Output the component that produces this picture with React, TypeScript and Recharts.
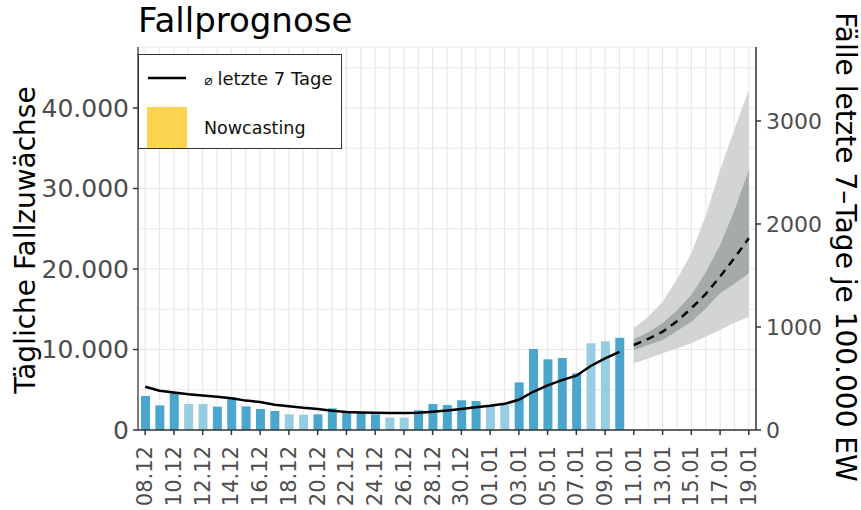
import React from 'react';
import { ComposedChart, Bar, Line, Area, XAxis, YAxis, CartesianGrid, Cell, Legend, Label } from 'recharts';

const dates = [
  '08.12', '09.12', '10.12', '11.12', '12.12', '13.12', '14.12', '15.12', '16.12', '17.12',
  '18.12', '19.12', '20.12', '21.12', '22.12', '23.12', '24.12', '25.12', '26.12', '27.12',
  '28.12', '29.12', '30.12', '31.12', '01.01', '02.01', '03.01', '04.01', '05.01', '06.01',
  '07.01', '08.01', '09.01', '10.01', '11.01', '12.01', '13.01', '14.01', '15.01', '16.01',
  '17.01', '18.01', '19.01',
];

// daily new cases (08.12 - 10.01)
const dailyCases = [
  4220, 3060, 4670, 3230, 3230, 2900, 4050, 2930, 2600, 2360,
  1950, 1900, 1950, 2690, 2150, 2150, 1950, 1550, 1530, 2450,
  3230, 3100, 3690, 3600, 3000, 3300, 5920, 10060, 8780, 8940,
  7040, 10770, 11020, 11470,
];

// 7-day average (08.12 - 10.01)
const avg7 = [
  5380, 4880, 4650, 4450, 4280, 4130, 3950, 3650, 3480, 3150,
  2950, 2750, 2600, 2400, 2250, 2180, 2130, 2100, 2100, 2150,
  2280, 2420, 2620, 2830, 3000, 3250, 3750, 4750, 5550, 6200,
  6750, 7950, 8900, 9700,
];

const lightBarDates = ['11.12', '12.12', '18.12', '19.12', '25.12', '26.12', '01.01', '02.01', '08.01', '09.01'];

// forecast (cases last 7 days per 100.000), 11.01 - 19.01
const forecastDates = ['11.01', '12.01', '13.01', '14.01', '15.01', '16.01', '17.01', '18.01', '19.01'];
const forecastMedian = [825, 885, 954, 1055, 1181, 1320, 1489, 1670, 1861];
const innerLow = [777, 825, 874, 960, 1052, 1180, 1327, 1420, 1521];
const innerHigh = [880, 950, 1036, 1160, 1311, 1530, 1796, 2130, 2524];
const outerLow = [647, 695, 744, 792, 842, 905, 971, 1040, 1100];
const outerHigh = [987, 1100, 1246, 1460, 1715, 2080, 2524, 2920, 3301];

const leftTicks = [0, 5000, 10000, 15000, 20000, 25000, 30000, 35000, 40000, 45000];
const rightTicks = [0, 1000, 2000, 3000];

const data = dates.map((d, i) => {
  const fi = forecastDates.indexOf(d);
  return {
    date: d,
    cases: i < dailyCases.length ? dailyCases[i] : null,
    avg: i < avg7.length ? avg7[i] : null,
    median: fi >= 0 ? forecastMedian[fi] : null,
    inner: fi >= 0 ? [innerLow[fi], innerHigh[fi]] : null,
    outer: fi >= 0 ? [outerLow[fi], outerHigh[fi]] : null,
  };
});

const FONT = '"DejaVu Sans", sans-serif';
const TICK_COLOR = '#4d4d4d';
const DARK_BLUE = '#4aa6cc';
const LIGHT_BLUE = '#97cde2';

const fmt = (v: number) => String(v).replace(/\B(?=(\d{3})+(?!\d))/g, '.');

const XTick = (props: any) => {
  const { x, y, payload } = props;
  const idx = dates.indexOf(payload.value);
  if (idx % 2 !== 0) return <g />;
  const ty = y + 16;
  return (
    <g>
      <line x1={x} x2={x} y1={y} y2={y + 5} stroke="#333" strokeWidth={1.5} />
      <text
        x={x}
        y={ty}
        transform={`rotate(-90 ${x} ${ty})`}
        textAnchor="end"
        dominantBaseline="central"
        fontFamily={FONT}
        fontSize={21}
        fill={TICK_COLOR}
      >
        {payload.value}
      </text>
    </g>
  );
};

const LeftTick = (props: any) => {
  const { x, y, payload } = props;
  if (payload.value % 10000 !== 0) return <g />;
  return (
    <g>
      <line x1={x - 5} x2={x} y1={y} y2={y} stroke="#333" strokeWidth={1.5} />
      <text x={x - 9} y={y} textAnchor="end" dominantBaseline="central" fontFamily={FONT} fontSize={25} fill={TICK_COLOR}>
        {fmt(payload.value)}
      </text>
    </g>
  );
};

const LegendBox = () => (
  <div
    style={{
      width: 204,
      height: 95,
      boxSizing: 'border-box',
      border: '1.5px solid #333',
      background: '#fff',
      position: 'relative',
      fontFamily: FONT,
      color: '#111',
    }}
  >
    <svg width={204} height={95} style={{ position: 'absolute', left: 0, top: 0 }}>
      <line x1={9} x2={47} y1={23} y2={23} stroke="#000" strokeWidth={2.5} />
      <rect x={8} y={52} width={40} height={41} fill="#fdd44f" />
      <text x={65} y={30} fontFamily={FONT} fontSize={18} fill="#111">
        <tspan fontSize={14}>⌀</tspan>
        <tspan dx={5}>letzte 7 Tage</tspan>
      </text>
      <text x={65} y={79} fontFamily={FONT} fontSize={17.5} fill="#111">Nowcasting</text>
    </svg>
  </div>
);

export default function App() {
  return (
    <div style={{ position: 'absolute', left: 0, top: 0, width: 861, height: 510, background: '#fff' }}>
      <div
        style={{
          position: 'absolute',
          left: 138,
          top: 3,
          fontFamily: FONT,
          fontSize: 34,
          lineHeight: '34px',
          color: '#000',
          whiteSpace: 'nowrap',
        }}
      >
        Fallprognose
      </div>
      <ComposedChart width={861} height={510} data={data} margin={{ top: 47, right: 0, bottom: 0, left: 0 }}>
        <CartesianGrid yAxisId="left" stroke="#e8e8e8" strokeWidth={1.2} />
        <XAxis
          dataKey="date"
          interval={0}
          height={80}
          tick={<XTick />}
          tickLine={false}
          tickSize={0}
          tickMargin={0}
          axisLine={{ stroke: '#333', strokeWidth: 1.5 }}
        />
        <YAxis
          yAxisId="left"
          width={138}
          domain={[0, 47578]}
          allowDataOverflow
          ticks={leftTicks}
          interval={0}
          tick={<LeftTick />}
          tickLine={false}
          tickSize={0}
          tickMargin={0}
          axisLine={{ stroke: '#555', strokeWidth: 1.5 }}
        >
          <Label
            content={() => (
              <text
                x={25}
                y={240}
                transform="rotate(-90 25 240)"
                textAnchor="middle"
                dominantBaseline="central"
                fontFamily={FONT}
                fontSize={28}
                fill="#000"
              >
                Tägliche Fallzuwächse
              </text>
            )}
          />
        </YAxis>
        <YAxis
          yAxisId="right"
          orientation="right"
          width={105}
          domain={[0, 3718]}
          allowDataOverflow
          ticks={rightTicks}
          interval={0}
          tick={{ fontFamily: FONT, fontSize: 22, fill: TICK_COLOR }}
          tickSize={5}
          tickMargin={5}
          tickLine={{ stroke: '#333', strokeWidth: 1.5 }}
          axisLine={{ stroke: '#333', strokeWidth: 1.5 }}
        >
          <Label
            content={() => (
              <text
                x={845}
                y={247}
                transform="rotate(90 845 247)"
                textAnchor="middle"
                dominantBaseline="central"
                fontFamily={FONT}
                fontSize={28}
                fill="#000"
              >
                Fälle letzte 7–Tage je 100.000 EW
              </text>
            )}
          />
        </YAxis>
        <Bar dataKey="cases" yAxisId="left" barSize={9} isAnimationActive={false}>
          {data.map((d) => (
            <Cell key={d.date} fill={lightBarDates.includes(d.date) ? LIGHT_BLUE : DARK_BLUE} />
          ))}
        </Bar>
        <Line
          dataKey="avg"
          yAxisId="left"
          type="linear"
          stroke="#000"
          strokeWidth={2.5}
          dot={false}
          activeDot={false}
          isAnimationActive={false}
        />
        <Area
          dataKey="outer"
          yAxisId="right"
          type="linear"
          stroke="none"
          fill="#d2d5d2"
          fillOpacity={1}
          isAnimationActive={false}
          activeDot={false}
        />
        <Area
          dataKey="inner"
          yAxisId="right"
          type="linear"
          stroke="none"
          fill="#a5aba7"
          fillOpacity={1}
          isAnimationActive={false}
          activeDot={false}
        />
        <Line
          dataKey="median"
          yAxisId="right"
          type="linear"
          stroke="#000"
          strokeWidth={2.5}
          strokeDasharray="8 6"
          dot={false}
          activeDot={false}
          isAnimationActive={false}
        />
        <Legend
          layout="vertical"
          align="center"
          verticalAlign="middle"
          wrapperStyle={{ position: 'absolute', left: 138, top: 54, width: 204, height: 95 }}
          content={() => <LegendBox />}
        />
      </ComposedChart>
    </div>
  );
}
